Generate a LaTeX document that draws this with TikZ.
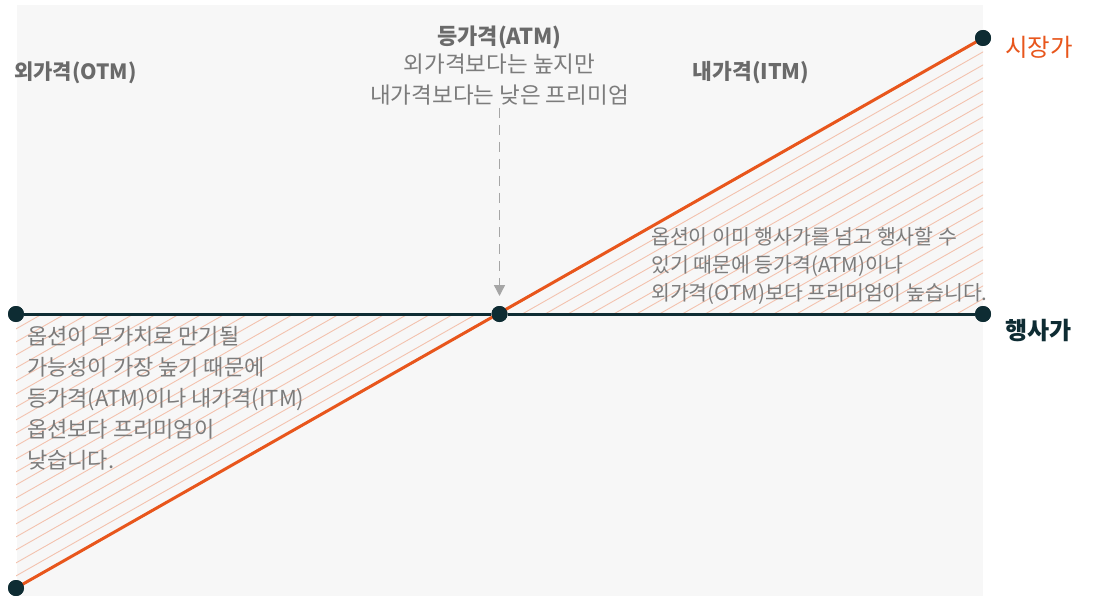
\documentclass[tikz,border=0pt]{standalone}
\usepackage{fontspec}
\setmainfont{Noto Sans CJK KR}
\usetikzlibrary{arrows.meta}
\definecolor{bgc}{HTML}{F7F7F7}
\definecolor{dk}{HTML}{0E2C33}
\definecolor{org}{HTML}{E8561C}
\definecolor{hatch}{HTML}{F3C2AE}
\definecolor{txt}{HTML}{7C7C7C}
\definecolor{hd}{HTML}{6A6A6A}
\tikzset{
  dot/.style={circle,fill=dk,inner sep=0pt,minimum size=16pt},
  body/.style={text=txt,inner sep=0pt,align=left,font=\fontsize{22}{31}\selectfont},
  head/.style={text=hd,inner sep=0pt,font=\bfseries\fontsize{21.5}{24}\selectfont},
  strike/.style={dk,line width=3pt},
  market/.style={org,line width=3pt},
  hatchline/.style={hatch,line width=0.9pt},
  pointer/.style={draw=black!35,line width=1.4pt,dash pattern=on 10pt off 7pt,-{Triangle[length=11pt,width=11pt]}}
}
\begin{document}
\begin{tikzpicture}[x=1pt,y=-1pt]
\useasboundingbox (0,0) rectangle (1094,596);
\fill[white] (0,0) rectangle (1094,596);
\fill[bgc] (17,5) rectangle (983,596);
% hatching
\begin{scope}
\clip (16,314) -- (499.5,314) -- (16,588) -- cycle (499.5,314) -- (983,314) -- (983,38) -- cycle;
\foreach \c in {0,13,...,1300} {
  \draw[hatchline] (0,\c) -- (1094,\c-622.2);
}
\end{scope}
\node[dot] (L) at (16,314) {};
\node[dot] (C) at (499.5,314) {};
\node[dot] (R) at (983,314) {};
\node[dot] (B) at (16,588) {};
\node[dot] (T) at (983,38) {};
\draw[strike] (L) -- (C);
\draw[strike] (C) -- (R);
\draw[market] (B.center) -- (T.center);
\node[dot] at (C) {};
\node[dot] at (L) {};
\node[dot] at (R) {};
\node[dot] at (B) {};
\node[dot] at (T) {};
% labels
\node[text=org,inner sep=0pt,anchor=west,font=\fontsize{24.5}{26}\selectfont] (mk) at (1005,47) {시장가};
\node[text=dk,inner sep=0pt,anchor=west,font=\bfseries\fontsize{24}{26}\selectfont] (st) at (1005,331) {행사가};
\node[head,anchor=west,font=\bfseries\fontsize{21}{24}\selectfont] (otm) at (14,73) {외가격(OTM)};
\node[head,font=\bfseries\fontsize{22}{24}\selectfont] (atm) at (499.5,37) {등가격(ATM)};
\node[head] (itm) at (751,73) {내가격(ITM)};
\node[body,align=center,anchor=north,font=\fontsize{22.5}{31}\selectfont] (atmtxt) at (499.5,54) {외가격보다는 높지만\\내가격보다는 낮은 프리미엄};
\coordinate (ptop) at (499.5,108);
\coordinate (pbot) at (499.5,296);
\draw[pointer] (ptop) -- (pbot);
\node[body,anchor=north west,font=\fontsize{20.5}{28}\selectfont] (itmtxt) at (651,227) {옵션이 이미 행사가를 넘고 행사할 수\\있기 때문에 등가격(ATM)이나\\외가격(OTM)보다 프리미엄이 높습니다.};
\node[body,anchor=north west] (otmtxt) at (27,326) {옵션이 무가치로 만기될\\가능성이 가장 높기 때문에\\등가격(ATM)이나 내가격(ITM)\\옵션보다 프리미엄이\\낮습니다.};
\end{tikzpicture}
\end{document}
